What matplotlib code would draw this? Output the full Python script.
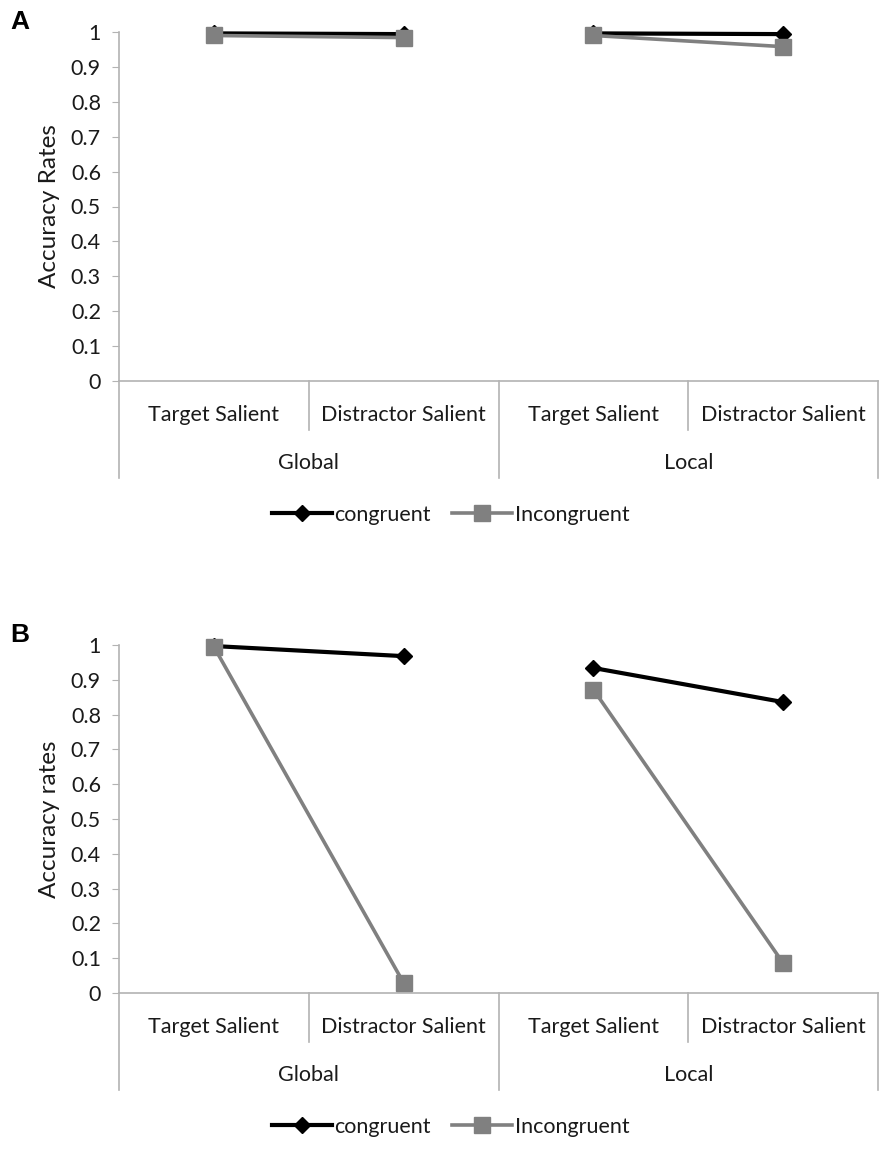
import matplotlib
matplotlib.use("Agg")
import matplotlib.pyplot as plt

plt.rcParams['font.family'] = ['Lato', 'DejaVu Sans']

subcats = ["Target Salient", "Distractor Salient", "Target Salient", "Distractor Salient"]
groups = ["Global", "Local"]
series_names = ["congruent", "Incongruent"]
yticks = [0, 0.1, 0.2, 0.3, 0.4, 0.5, 0.6, 0.7, 0.8, 0.9, 1]
ytick_labels = ["0", "0.1", "0.2", "0.3", "0.4", "0.5", "0.6", "0.7", "0.8", "0.9", "1"]

A_congruent = [0.996, 0.994, 0.996, 0.994]
A_incongruent = [0.99, 0.984, 0.99, 0.958]
B_congruent = [0.997, 0.968, 0.934, 0.836]
B_incongruent = [0.995, 0.029, 0.872, 0.086]

W, H = 892, 1160
fig = plt.figure(figsize=(W / 100, H / 100), dpi=100)

AX_COL = "#b3b3b3"
TXT = "#1a1a1a"
FS = 15.5


def panel(top_px, bot_px, cong, incong, ylabel, letter):
    left, right = 119, 878
    ax = fig.add_axes([left / W, 1 - bot_px / H, (right - left) / W, (bot_px - top_px) / H])
    hpx = bot_px - top_px
    ax.set_xlim(-0.5, 3.5)
    ax.set_ylim(0, 1)
    for s in ["top", "right", "bottom"]:
        ax.spines[s].set_visible(False)
    ax.spines["left"].set_color(AX_COL)
    ax.spines["left"].set_linewidth(1.2)
    ax.axhline(0, color=AX_COL, lw=1.2, clip_on=False)
    ax.set_yticks(yticks)
    ax.set_yticklabels(ytick_labels)
    ax.tick_params(axis="y", length=5, color=AX_COL, labelsize=FS, labelcolor=TXT, pad=8)
    ax.set_xticks([])
    ax.set_ylabel(ylabel, fontsize=FS + 2, color=TXT, labelpad=8)
    lc = lg = None
    for gi in range(2):
        xs = [2 * gi, 2 * gi + 1]
        lc, = ax.plot(xs, cong[2 * gi:2 * gi + 2], color="black", lw=3, marker="D",
                      ms=8.5, zorder=3, clip_on=False)
        lg, = ax.plot(xs, incong[2 * gi:2 * gi + 2], color="#808080", lw=2.6, marker="s",
                      ms=11.5, zorder=4, clip_on=False)
    trans = ax.get_xaxis_transform()
    inner = -49 / hpx
    outer = -97 / hpx
    for x in [0.5, 2.5]:
        ax.plot([x, x], [0, inner], color=AX_COL, lw=1.2, transform=trans, clip_on=False)
    for x in [-0.5, 1.5, 3.5]:
        ax.plot([x, x], [0, outer], color=AX_COL, lw=1.2, transform=trans, clip_on=False)
    for i, lab in enumerate(subcats):
        ax.text(i, -34 / hpx, lab, transform=trans, ha="center", va="center",
                fontsize=FS, color=TXT)
    for gi, g in enumerate(groups):
        ax.text(2 * gi + 0.5, -82 / hpx, g, transform=trans, ha="center", va="center",
                fontsize=FS, color=TXT)
    fig.text(10 / W, 1 - (top_px - 10) / H, letter, fontsize=19, fontweight="bold",
             family="Liberation Sans", ha="left", va="center")
    leg_y = bot_px + 134
    fig.legend([lc, lg], series_names, loc="center", ncol=2,
               bbox_to_anchor=(0.505, 1 - leg_y / H), frameon=False, fontsize=FS,
               handlelength=2.8, handletextpad=0.1, columnspacing=1.0,
               labelcolor=TXT)
    return ax


panel(32, 381, A_congruent, A_incongruent, "Accuracy Rates", "A")
panel(645, 993, B_congruent, B_incongruent, "Accuracy rates", "B")

fig.savefig("out.png", dpi=100)
